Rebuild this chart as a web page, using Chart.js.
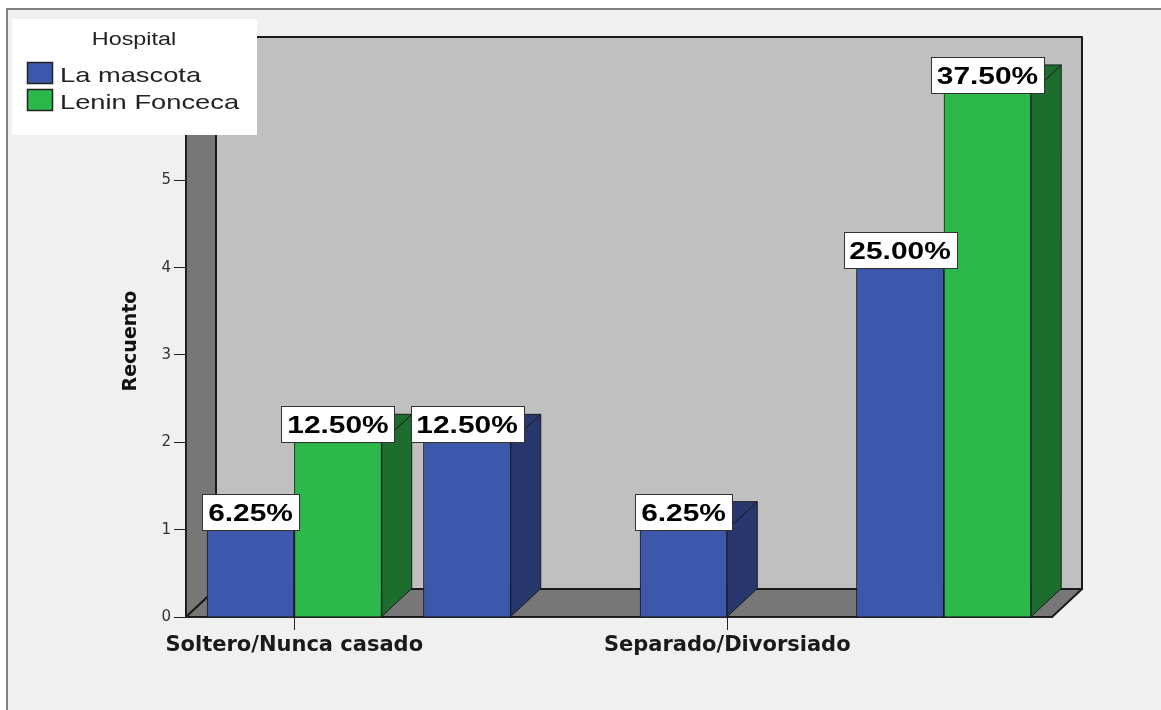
<!DOCTYPE html>
<html>
<head>
<meta charset="utf-8">
<title>Recuento por estado civil</title>
<script src="https://cdn.jsdelivr.net/npm/chart.js@4.4.1/dist/chart.umd.min.js"></script>
<style>
  html, body { margin: 0; padding: 0; background: #fff; }
  canvas { display: block; }
</style>
</head>
<body>
<canvas id="chart" width="1161" height="710"></canvas>
<script>
const categories = ["Soltero/Nunca casado", "Casado", "Separado/Divorsiado", "Unión libre"];
const laMascota = [1, 2, 1, 4];
const leninFonceca = [2, 0, 0, 6];
const seriesNames = ["La mascota", "Lenin Fonceca"];
const legendTitle = "Hospital";
const yTitle = "Recuento";

// percentages on the boxes are counts over the grand total
const total = [...laMascota, ...leninFonceca].reduce((a, b) => a + b, 0);

// depth of the 3D walls and bars
const DX = 30;
const DY = 28;
// horizontal stretch for the hand drawn text
const SX = 1.3;

const faceColors = ["#3d58aa", "#2db84b"];
const sideColors = ["#28386e", "#1d6e2e"];
const edge = "#1a1a1a";
const sansFont = "'Liberation Sans', Arial, sans-serif";

function poly(ctx, pts, fill) {
  ctx.beginPath();
  ctx.moveTo(pts[0][0], pts[0][1]);
  for (let k = 1; k < pts.length; k++) ctx.lineTo(pts[k][0], pts[k][1]);
  ctx.closePath();
  ctx.fillStyle = fill;
  ctx.fill();
  ctx.stroke();
}

function stretchedText(ctx, text, x, y, align) {
  ctx.save();
  ctx.translate(x, y);
  ctx.scale(SX, 1);
  ctx.textAlign = align;
  ctx.fillText(text, 0, 0);
  ctx.restore();
}

// panel frame, back wall, left wall and floor
const walls = {
  id: "walls",
  beforeDraw(chart) {
    const ctx = chart.ctx;
    const { left, right, top, bottom } = chart.chartArea;
    ctx.save();
    ctx.fillStyle = "#fff";
    ctx.fillRect(0, 0, chart.width, chart.height);
    ctx.fillStyle = "#f0f0f0";
    ctx.fillRect(8, 10, chart.width, chart.height);
    ctx.strokeStyle = "#808080";
    ctx.lineWidth = 2;
    ctx.beginPath();
    ctx.moveTo(7, chart.height);
    ctx.lineTo(7, 9);
    ctx.lineTo(chart.width, 9);
    ctx.stroke();

    ctx.strokeStyle = edge;
    ctx.lineWidth = 2;
    ctx.lineJoin = "round";
    poly(ctx, [[left + DX, top - DY], [right + DX, top - DY], [right + DX, bottom - DY], [left + DX, bottom - DY]], "#c0c0c0");
    poly(ctx, [[left, bottom], [left + DX, bottom - DY], [left + DX, top - DY], [left, top]], "#777777");
    poly(ctx, [[left, bottom], [right, bottom], [right + DX, bottom - DY], [left + DX, bottom - DY]], "#777777");
    ctx.restore();
  }
};

// Chart.js paints the last dataset first, so the boxes are repainted
// left to right here: front face, then its side and top faces
const barDepth = {
  id: "barDepth",
  afterDatasetsDraw(chart) {
    const ctx = chart.ctx;
    const sets = chart.data.datasets;
    categories.forEach((cat, j) => {
      sets.forEach((ds, i) => {
        if (!ds.data[j]) return;
        const bar = chart.getDatasetMeta(i).data[j];
        bar.draw(ctx, chart.chartArea);
        const { x, y, base, width } = bar.getProps(["x", "y", "base", "width"], true);
        const x1 = x - width / 2;
        const x2 = x + width / 2;
        ctx.save();
        ctx.lineWidth = 1;
        ctx.strokeStyle = edge;
        ctx.lineJoin = "round";
        poly(ctx, [[x2, y], [x2 + DX, y - DY], [x2 + DX, base - DY], [x2, base]], sideColors[i]);
        poly(ctx, [[x1, y], [x1 + DX, y - DY], [x2 + DX, y - DY], [x2, y]], sideColors[i]);
        ctx.restore();
      });
    });
  }
};

// white boxes with the percentage above each bar
const valueLabels = {
  id: "valueLabels",
  afterDatasetsDraw(chart) {
    const ctx = chart.ctx;
    ctx.save();
    ctx.font = "bold 23px " + sansFont;
    chart.data.datasets.forEach((ds, i) => {
      chart.getDatasetMeta(i).data.forEach((bar, j) => {
        const v = ds.data[j];
        if (!v) return;
        const text = (v / total * 100).toFixed(2) + "%";
        const w = Math.round(ctx.measureText(text).width * SX + 12);
        const h = 36;
        const { x, y } = bar.getProps(["x", "y"], true);
        const bx = Math.round(x - w / 2) + 0.5;
        const by = Math.round(y - h) + 0.5;
        ctx.fillStyle = "#fff";
        ctx.fillRect(bx, by, w, h);
        ctx.strokeStyle = "#333";
        ctx.lineWidth = 1;
        ctx.strokeRect(bx, by, w, h);
        ctx.fillStyle = "#000";
        stretchedText(ctx, text, x, by + h / 2 + 8, "center");
      });
    });
    ctx.restore();
  }
};

const hospitalLegend = {
  id: "hospitalLegend",
  afterDraw(chart) {
    const ctx = chart.ctx;
    ctx.save();
    ctx.fillStyle = "#fff";
    ctx.fillRect(12, 19, 245, 116);
    ctx.fillStyle = "#222";
    ctx.font = "18px " + sansFont;
    stretchedText(ctx, legendTitle, 134, 45, "center");
    ctx.font = "21px " + sansFont;
    chart.data.datasets.forEach((ds, i) => {
      const y = 62 + i * 27;
      ctx.fillStyle = ds.backgroundColor;
      ctx.fillRect(27.5, y + 0.5, 25, 21);
      ctx.strokeStyle = "#222";
      ctx.lineWidth = 1.5;
      ctx.strokeRect(27.5, y + 0.5, 25, 21);
      ctx.fillStyle = "#222";
      stretchedText(ctx, ds.label, 60, y + 20, "left");
    });
    ctx.restore();
  }
};

new Chart(document.getElementById("chart"), {
  type: "bar",
  data: {
    labels: categories,
    datasets: [
      { label: seriesNames[0], data: laMascota, backgroundColor: faceColors[0] },
      { label: seriesNames[1], data: leninFonceca, backgroundColor: faceColors[1] }
    ]
  },
  options: {
    responsive: false,
    animation: false,
    devicePixelRatio: 1,
    layout: { padding: { left: 110, right: 109, top: 65, bottom: 33 } },
    datasets: {
      bar: {
        categoryPercentage: 0.808,
        barPercentage: 1,
        borderColor: edge,
        borderWidth: (c) => (c.raw ? 1 : 0)
      }
    },
    plugins: {
      legend: { display: false },
      tooltip: { enabled: false }
    },
    scales: {
      x: {
        afterFit(scale) { scale.height = 60; },
        grid: {
          offset: false,
          drawOnChartArea: false,
          tickLength: 13,
          tickColor: (c) => (c.index % 2 === 0 ? "#222" : "rgba(0,0,0,0)")
        },
        border: { color: "#222", width: 1 },
        ticks: {
          autoSkip: false,
          maxRotation: 0,
          padding: 3,
          color: "#1a1a1a",
          font: { family: "'DejaVu Sans'", size: 21, weight: "bold" },
          callback: (v, i) => (i % 2 === 0 ? categories[i] : "")
        }
      },
      y: {
        min: 0,
        max: 6.32,
        afterFit(scale) { scale.width = 76; },
        ticks: {
          stepSize: 1,
          includeBounds: false,
          padding: 3,
          color: "#333",
          font: { family: "'DejaVu Sans'", size: 15 }
        },
        grid: { drawOnChartArea: false, tickLength: 12, tickColor: "#222" },
        border: { color: "#222", width: 1 },
        title: {
          display: true,
          text: yTitle,
          color: "#111",
          font: { family: "'DejaVu Sans'", size: 19, weight: "bold" },
          padding: { top: 10, bottom: 0 }
        }
      }
    }
  },
  plugins: [walls, barDepth, valueLabels, hospitalLegend]
});
</script>
</body>
</html>
